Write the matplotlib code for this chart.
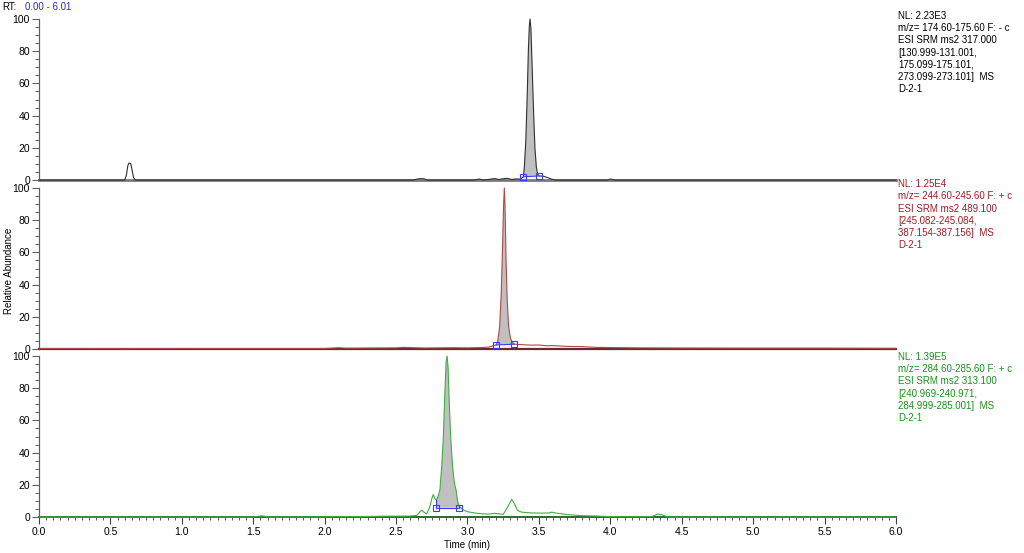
import matplotlib
matplotlib.use("Agg")
import matplotlib.pyplot as plt
from matplotlib.ticker import MultipleLocator, FormatStrFormatter

plt.rcParams['font.family'] = ['Liberation Sans', 'DejaVu Sans']

# ---------------- data ----------------
top_time = [0.0, 0.60, 0.612, 0.622, 0.630, 0.642, 0.652, 0.662, 0.675, 0.70,
            2.62, 2.66, 2.69, 2.72, 3.05, 3.08, 3.11, 3.16, 3.19, 3.22, 3.25,
            3.28, 3.31, 3.34, 3.37, 3.391, 3.398, 3.408, 3.418, 3.426, 3.433,
            3.438, 3.444, 3.452, 3.462, 3.472, 3.482, 3.492, 3.50, 3.53, 3.56,
            3.59, 3.62, 3.98, 4.00, 4.03, 6.0]
top_int = [0, 0, 3, 9, 10.5, 10.3, 6, 1.5, 0, 0,
           0, 0.8, 0.8, 0, 0, 0.6, 0, 0.5, 0.9, 0.3, 0.8,
           1.0, 0.3, 0.7, 0.5, 2.0, 8, 24, 52, 80, 96,
           100, 94, 72, 44, 20, 8, 3.5, 2.5, 2.4, 1.5,
           0.5, 0, 0, 0.6, 0, 0]
top_peak = [3.391, 3.50]
top_base = [2.0, 2.5]

mid_time = [0.0, 0.3, 0.6, 1.0, 1.5, 2.0, 2.1, 2.15, 2.3, 2.5, 2.55, 2.7, 2.9,
            3.0, 3.1, 3.15, 3.20, 3.212, 3.225, 3.236, 3.245, 3.252, 3.258,
            3.263, 3.270, 3.278, 3.288, 3.300, 3.314, 3.328, 3.36, 3.40, 3.45,
            3.50, 3.55, 3.60, 3.70, 3.80, 3.90, 4.0, 4.2, 4.5, 5.0, 5.5, 6.0]
mid_int = [0.2, 0.3, 0.2, 0.3, 0.3, 0.3, 0.8, 0.5, 0.6, 0.7, 1.0, 0.6, 0.8,
           0.7, 0.9, 1.2, 2.5, 5, 14, 34, 62, 88, 100,
           88, 55, 30, 14, 7, 4, 3, 2.8, 2.6, 2.4,
           2.5, 2.0, 2.1, 1.6, 1.5, 1.0, 0.9, 0.7, 0.6, 0.5, 0.5, 0.4]
mid_peak = [3.20, 3.328]
mid_base = [2.5, 3.0]

bot_time = [0.0, 1.50, 1.56, 1.62, 2.30, 2.40, 2.50, 2.60, 2.645, 2.665, 2.68,
            2.695, 2.714, 2.735, 2.752, 2.761, 2.770, 2.782, 2.795, 2.807,
            2.820, 2.831, 2.842, 2.850, 2.857, 2.864, 2.872, 2.882, 2.895,
            2.908, 2.920, 2.930, 2.941, 2.96, 2.98, 3.00, 3.05, 3.10, 3.15,
            3.19, 3.22, 3.25, 3.28, 3.31, 3.33, 3.35, 3.38, 3.45, 3.52, 3.57,
            3.59, 3.62, 3.70, 3.80, 3.90, 4.00, 4.29, 4.33, 4.36, 4.40, 6.0]
bot_int = [0, 0, 0.7, 0, 0.3, 0.5, 0.5, 0.6, 1.0, 3.0, 4.3,
           3.0, 1.9, 6, 12, 14, 11.5, 10.6, 13, 17,
           32, 50, 78, 96, 100, 93, 72, 50, 32,
           21, 16.8, 10, 7, 5, 4, 3.3, 2.5, 2.0, 1.8,
           2.3, 2.0, 1.6, 6, 11, 8, 4, 3, 2.5, 2.4, 2.5,
           3.0, 2.4, 1.5, 0.8, 0.6, 0.2, 0.2, 1.8, 1.5, 0, 0]
bot_peak = [2.782, 2.941]
bot_base = [5.8, 5.8]

top_text = ["NL: 2.23E3", "m/z= 174.60-175.60 F: - c", "ESI SRM ms2 317.000",
            "[130.999-131.001,", "175.099-175.101,", "273.099-273.101]  MS", "D-2-1"]
mid_text = ["NL: 1.25E4", "m/z= 244.60-245.60 F: + c", "ESI SRM ms2 489.100",
            "[245.082-245.084,", "387.154-387.156]  MS", "D-2-1"]
bot_text = ["NL: 1.39E5", "m/z= 284.60-285.60 F: + c", "ESI SRM ms2 313.100",
            "[240.969-240.971,", "284.999-285.001]  MS", "D-2-1"]

x_ticks = [0.0, 0.5, 1.0, 1.5, 2.0, 2.5, 3.0, 3.5, 4.0, 4.5, 5.0, 5.5, 6.0]
y_ticks = [0, 20, 40, 60, 80, 100]

# ---------------- figure ----------------
W, H = 1024, 553
fig = plt.figure(figsize=(W / 100, H / 100), dpi=100)

def px_axes(x0, y0, x1, y1):
    return fig.add_axes([x0 / W, 1 - y1 / H, (x1 - x0) / W, (y1 - y0) / H])

panels = [
    dict(box=(39, 19, 896, 180), t=top_time, v=top_int, pk=top_peak, bs=top_base,
         line='#303030', zero='#7a7a7a', zlw=2.0, text=top_text, tcol='#000000',
         ty=[16, 28.2, 40.4, 52.6, 64.8, 77.0, 89.2]),
    dict(box=(39, 188, 896, 349), t=mid_time, v=mid_int, pk=mid_peak, bs=mid_base,
         line='#b04848', zero='#6e2a2a', zlw=1.6, text=mid_text, tcol='#a01c24',
         ty=[184, 196.3, 208.6, 220.9, 233.2, 245.5]),
    dict(box=(39, 356, 896, 517), t=bot_time, v=bot_int, pk=bot_peak, bs=bot_base,
         line='#3fae3f', zero='#2a6a2a', zlw=1.4, text=bot_text, tcol='#1a901a',
         ty=[356.7, 369, 381.3, 393.6, 405.9, 418.2]),
]

axes = []
for i, p in enumerate(panels):
    ax = px_axes(*p['box'])
    axes.append(ax)
    ax.set_xlim(0, 6.0)
    ax.set_ylim(0, 100)
    for s in ['top', 'right']:
        ax.spines[s].set_visible(False)
    ax.spines['left'].set_color('#606060')
    ax.spines['left'].set_linewidth(0.9)
    ax.set_yticks(y_ticks)
    ax.yaxis.set_minor_locator(MultipleLocator(5))
    ax.tick_params(axis='y', which='major', length=5, width=0.8, color='#606060',
                   labelsize=7.5, pad=1.5)
    ax.tick_params(axis='y', which='minor', length=3, width=0.7, color='#606060')

    t, v = p['t'], p['v']
    pl, pr = p['pk']
    bl, br = p['bs']
    # integrated peak area
    seg_t = [x for x in t if pl <= x <= pr]
    seg_v = [y for x, y in zip(t, v) if pl <= x <= pr]
    ax.fill([pl] + seg_t + [pr], [bl] + seg_v + [br], color='#c0c0c0', lw=0,
            zorder=2)
    ax.axhline(0, color=p['zero'], lw=p['zlw'], zorder=3, clip_on=False)
    ax.plot(t, v, color=p['line'], lw=0.8, zorder=4, clip_on=False)
    # baseline markers
    ax.plot([pl, pl], [bl, seg_v[0]], color='#3a3aff', lw=0.8, zorder=5)
    ax.plot([pr, pr], [br, seg_v[-1]], color='#3a3aff', lw=0.8, zorder=5)
    ax.plot([pl, pr], [bl, br], color='#3a3aff', lw=0.8, marker='s', ms=4,
            mfc='none', mec='#3a3aff', mew=0.8, zorder=6)

    for line, y in zip(p['text'], p['ty']):
        fig.text(898 / W, 1 - y / H, line, fontsize=7, color=p['tcol'],
                 va='center', ha='left')

    if i < 2:
        ax.spines['bottom'].set_visible(False)
        ax.set_xticks([])
    else:
        ax.spines['bottom'].set_visible(False)
        ax.set_xticks(x_ticks)
        ax.xaxis.set_major_formatter(FormatStrFormatter('%.1f'))
        ax.xaxis.set_minor_locator(MultipleLocator(0.05))
        ax.tick_params(axis='x', which='major', length=5, width=0.8,
                       color='#404040', labelsize=7.5, pad=2)
        ax.tick_params(axis='x', which='minor', length=2.5, width=0.6,
                       color='#404040')

fig.text(2 / W, 1 - 7 / H, "RT:", fontsize=7, color='#000000', va='center', ha='left')
fig.text(25 / W, 1 - 7 / H, "0.00 - 6.01", fontsize=7, color='#2a2ac8',
         va='center', ha='left')
fig.text(9 / W, 1 - 271 / H, "Relative Abundance", fontsize=7, rotation=90,
         va='center', ha='center')
fig.text(467 / W, 1 - 545 / H, "Time (min)", fontsize=7, va='center', ha='center')

fig.savefig("out.png", dpi=100, facecolor='white')
